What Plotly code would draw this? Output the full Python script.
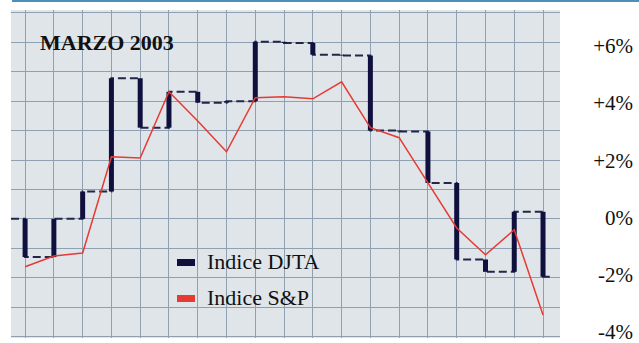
import plotly.graph_objects as go

# ---- data ----
days = list(range(1, 20))
djta_start = 0.0
djta = [-1.30, 0.00, 0.93, 4.78, 3.10, 4.32, 3.95, 4.00, 6.02, 5.98,
        5.58, 5.55, 3.00, 2.97, 1.22, -1.38, -1.80, 0.24, -1.97]
sp = [-1.63, -1.26, -1.16, 2.11, 2.07, 4.32, 3.33, 2.28, 4.12, 4.15,
      4.08, 4.66, 3.10, 2.76, 1.22, -0.31, -1.22, -0.37, -3.27]
tick_vals = [-4, -2, 0, 2, 4, 6]
tick_text = ["-4%", "-2%", "0%", "+2%", "+4%", "+6%"]
title_text = "MARZO 2003"
legend_names = ["Indice DJTA", "Indice S&P"]

NAVY = "#10103e"
RED = "#e63a33"
FONT = "Liberation Serif"

x_start, x_end = 0.51, 19.3
y_range = [-4.05, 7.1]
# label axis: same scale family, placed as the printed labels sit in the reference
label_range = [-4.22, 7.26]

fig = go.Figure()

# dashed horizontal connectors of the DJTA step chart
fig.add_trace(go.Scatter(
    x=[x_start] + days + [x_end],
    y=[djta_start] + djta + [djta[-1]],
    mode="lines", line=dict(color="#25254a", width=2, dash="8px,4px", shape="hv"),
    hoverinfo="skip", showlegend=False))

# thick vertical bars: change from previous close
vx, vy = [], []
prev = djta_start
for d, v in zip(days, djta):
    vx += [d, d, None]
    vy += [prev, v, None]
    prev = v
fig.add_trace(go.Scatter(x=vx, y=vy, mode="lines",
                         line=dict(color=NAVY, width=5),
                         name=legend_names[0], showlegend=False))

# S&P line
fig.add_trace(go.Scatter(x=days, y=sp, mode="lines",
                         line=dict(color=RED, width=1.5),
                         name=legend_names[1], showlegend=False))

# invisible trace for right label axis
fig.add_trace(go.Scatter(x=[days[0]], y=[0], yaxis="y2", mode="markers",
                         marker=dict(opacity=0), hoverinfo="skip", showlegend=False))

L, T, B = 11, 10, 5
W, H = 639, 343
pw = W - L  # paper width in px
ph = H - T - B

def px_x(p):
    return (p - L) / pw

def px_y(p):
    return (H - B - p) / ph

fig.update_layout(
    width=W, height=H,
    margin=dict(l=L, r=0, t=T, b=B, autoexpand=False),
    paper_bgcolor="white",
    plot_bgcolor="#e0e5ea",
    xaxis=dict(domain=[0, px_x(560)], range=[x_start, 19.59], automargin=False,
               showticklabels=False, ticks="", showline=False, zeroline=False,
               showgrid=True, gridcolor="#8fa0b0", gridwidth=1.4,
               tick0=1, dtick=1),
    yaxis=dict(range=y_range, showticklabels=False, ticks="", automargin=False,
               showline=False, zeroline=False, showgrid=True,
               gridcolor="#8fa0b0", gridwidth=1.4, tick0=0, dtick=1),
    yaxis2=dict(overlaying="y", range=label_range, side="left", anchor="free",
                position=px_x(633), showgrid=False, zeroline=False, showline=False,
                ticks="", tickvals=tick_vals, ticktext=tick_text, automargin=False,
                ticklabeloverflow="allow",
                tickfont=dict(family=FONT, size=21, color="#111111")),
    font=dict(family=FONT),
    showlegend=False,
)

# top blue rule
fig.add_shape(type="line", xref="paper", yref="paper",
              x0=px_x(12), x1=1.0, y0=px_y(1), y1=px_y(1),
              line=dict(color="#4d8fb8", width=2))

# title
fig.add_annotation(text="<b>" + title_text + "</b>", xref="paper", yref="paper",
                   x=px_x(38), y=px_y(43), xanchor="left", yanchor="middle",
                   showarrow=False, font=dict(family=FONT, size=22, color="#111111"))

# manual legend
for name, col, yc in [(legend_names[0], NAVY, 262.5), (legend_names[1], RED, 298.5)]:
    fig.add_shape(type="rect", xref="paper", yref="paper",
                  x0=px_x(177), x1=px_x(195), y0=px_y(yc + 3.5), y1=px_y(yc - 3.5),
                  fillcolor=col, line=dict(width=0))
    fig.add_annotation(text=name, xref="paper", yref="paper",
                       x=px_x(205), y=px_y(yc - 1), xanchor="left", yanchor="middle",
                       showarrow=False, font=dict(family=FONT, size=22, color="#111111"))

fig.write_html("out.html")
